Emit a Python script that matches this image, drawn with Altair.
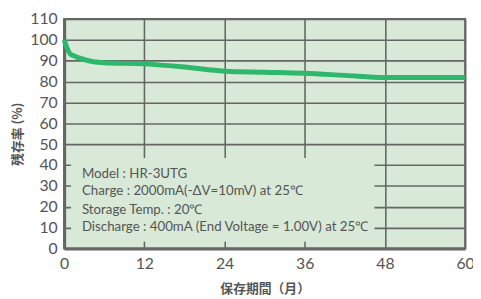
import altair as alt
import pandas as pd

# Data
months = [0, 1, 6, 12, 18, 24, 30, 36, 42, 48, 54, 60]
residual = [100, 93, 89, 88.5, 87, 85, 84.5, 84, 83, 82, 82, 82]

x_ticks = [0, 12, 24, 36, 48, 60]
y_ticks = [0, 10, 20, 30, 40, 50, 60, 70, 80, 90, 100, 110]

notes = [
    "Model : HR-3UTG",
    "Charge : 2000mA(-\u0394V=10mV) at 25\u2103",
    "Storage Temp. : 20\u2103",
    "Discharge : 400mA (End Voltage = 1.00V) at 25\u2103",
]

title_text = "自己放電特性"
x_title = "保存期間（月）"
y_title = "残存率 (%)"

BG = "#D8E9D8"
GRID = "#666666"
TXT = "#555555"
LINE = "#2DB86B"
FONT = "Lato"
JFONT = "Noto Sans CJK JP"

df = pd.DataFrame({"month": months, "residual": residual})
box_df = pd.DataFrame({"k": [0]})

W, H = 407, 233
NOTE_Y = [157, 175, 194, 211]

x_scale = alt.Scale(domain=[0, 60], nice=False, zero=False)
y_scale = alt.Scale(domain=[0, 110], nice=False)

x_axis = alt.Axis(values=x_ticks, title=x_title, grid=True, gridColor=GRID, gridWidth=1.6,
                  ticks=False, labelPadding=7, labelFontSize=16, labelFont=FONT, labelColor=TXT,
                  domainColor=GRID, domainWidth=3, titleFont=JFONT, titleFontSize=13,
                  titleFontWeight="bold", titleColor=TXT, titlePadding=12, labelFlush=False)
y_axis = alt.Axis(values=y_ticks, title=y_title, grid=True, gridColor=GRID, gridWidth=1.6,
                  ticks=False, labelPadding=7, labelFontSize=16, labelFont=FONT, labelColor=TXT,
                  domainColor=GRID, domainWidth=3, titleFont=JFONT, titleFontSize=13,
                  titleFontWeight="bold", titleColor=TXT, titlePadding=5, labelFlush=False)

base = alt.Chart(df).mark_line(color=LINE, strokeWidth=5, interpolate="monotone").encode(
    x=alt.X("month:Q", scale=x_scale, axis=x_axis),
    y=alt.Y("residual:Q", scale=y_scale, axis=y_axis),
)

box = alt.Chart(box_df).mark_rect(fill=BG).encode(
    x=alt.value(7), x2=alt.value(315), y=alt.value(141), y2=alt.value(226)
)

note_layers = []
for note, yp in zip(notes, NOTE_Y):
    note_layers.append(
        alt.Chart(box_df).mark_text(
            align="left", baseline="middle", fontSize=13.5, font=FONT, color=TXT, text=note
        ).encode(x=alt.value(18), y=alt.value(yp))
    )

chart = alt.layer(box, *note_layers, base).properties(
    width=W, height=H,
    padding={"left": 57, "top": 9, "right": 8, "bottom": 46},
    autosize=alt.AutoSizeParams(type="none"),
    title=alt.TitleParams(title_text, font=JFONT, fontSize=22, fontWeight="bold", color=TXT,
                          anchor="middle", offset=12, dx=-28),
).configure_view(
    fill=BG, stroke=GRID, strokeWidth=2
)

chart.save("out.html", embed_options={"renderer": "svg", "actions": False})
